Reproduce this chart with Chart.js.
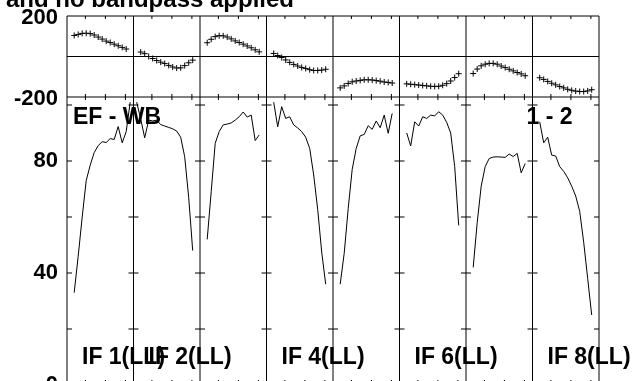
<!DOCTYPE html>
<html>
<head>
<meta charset="utf-8">
<script src="https://cdn.jsdelivr.net/npm/chart.js@4.4.1/dist/chart.umd.min.js"></script>
<style>
  html, body { margin: 0; padding: 0; background: #fff; overflow: hidden; }
  canvas { display: block; }
</style>
</head>
<body>
<canvas id="possm" width="636" height="400"></canvas>
<script>
// channels of each IF window
var channels = [1, 2, 3, 4, 5, 6, 7, 8, 9, 10, 11, 12, 13, 14, 15, 16];
var ifLabels = ['IF 1(LL)', 'IF 2(LL)', 'IF 3(LL)', 'IF 4(LL)', 'IF 5(LL)', 'IF 6(LL)', 'IF 7(LL)', 'IF 8(LL)'];
var labelledIFs = [1, 2, 4, 6, 8];
var phaseTicks = [-200, 200];
var ampTicks = [0, 40, 80];
var ampTickMarks = [20, 40, 60, 80, 100];
var channelTicks = [4.6, 9.6, 14.6];
var baselineName = 'EF - WB';
var stokesName = '1 - 2';
var plotTitle = 'Calibration table 1 applied and no bandpass applied';

// phase (degrees), one value per channel
var phaseIF1 = [null, 104, 109, 114, 115, 113, 106, 96, 86, 76, 69, 61, 53, 45, 37, null];
var phaseIF2 = [null, 22, 14, 0, -10, -20, -28, -35, -44, -52, -57, -56, -45, -31, -18, null];
var phaseIF3 = [null, 68, 85, 98, 103, 102, 96, 87, 77, 69, 61, 52, 43, 33, 23, null];
var phaseIF4 = [null, 15, 5, -5, -17, -29, -39, -47, -54, -59, -65, -69, -69, -67, -63, null];
var phaseIF5 = [null, -155, -145, -133, -125, -121, -118, -115, -115, -116, -119, -122, -126, -128, -131, null];
var phaseIF6 = [null, -135, -137, -139, -141, -143, -145, -147, -148, -147, -142, -134, -121, -104, -85, null];
var phaseIF7 = [null, -84, -62, -46, -38, -34, -34, -38, -47, -55, -63, -71, -79, -86, -95, null];
var phaseIF8 = [null, -105, -113, -123, -132, -140, -148, -155, -162, -167, -171, -173, -173, -170, -164, null];

// amplitude, one value per channel
var ampIF1 = [null, 33, 46, 60, 73, 78.5, 83, 85.5, 86.9, 86.6, 88, 87.7, 92.3, 86.5, 90.5, 101];
var ampIF2 = [101, 95, 88.3, 94.6, 94.3, 94.6, 93, 92.5, 92, 91.5, 90.7, 88.5, 81.5, 67, 48, null];
var ampIF3 = [null, 52, 69, 86.3, 90.5, 92.9, 93.2, 93.6, 94.6, 95.8, 97.5, 95.7, 96.4, 87.3, 89.3, null];
var ampIF4 = [null, 101, 92.2, 99.4, 95.2, 95.8, 92.9, 91.8, 90.5, 88.5, 84.5, 75, 62.7, 47.5, 36, null];
var ampIF5 = [null, 36, 47, 63, 77, 84.5, 89, 89.5, 92.6, 91.3, 94.3, 91.9, 96.4, 89.9, 97, null];
var ampIF6 = [null, 90, 85.4, 94, 92.5, 95.8, 95.2, 96.4, 96.1, 97.6, 96.4, 93.8, 90, 78, 57, null];
var ampIF7 = [null, 42, 58, 71, 78, 80.9, 81.4, 81.5, 81.4, 81.3, 82.5, 81.6, 82.7, 75.8, 79.1, null];
var ampIF8 = [null, 94, 86.5, 88.5, 82.1, 81.8, 78, 76.3, 74, 71, 67.5, 62, 51, 38, 25, null];

var phases = [phaseIF1, phaseIF2, phaseIF3, phaseIF4, phaseIF5, phaseIF6, phaseIF7, phaseIF8];
var amps = [ampIF1, ampIF2, ampIF3, ampIF4, ampIF5, ampIF6, ampIF7, ampIF8];

var W = 16.625; // width of one IF window in channels
var FONT = 'Liberation Sans, Arial, Helvetica, sans-serif';

function points(p, arr) {
  var pts = [];
  for (var i = 0; i < channels.length; i++) {
    if (arr[i] !== null) pts.push({x: p * W + channels[i] - 0.2, y: arr[i]});
  }
  return pts;
}

var datasets = [];
for (var p = 0; p < 8; p++) {
  datasets.push({
    label: ifLabels[p] + ' phase',
    data: points(p, phases[p]),
    yAxisID: 'yP',
    showLine: false,
    pointStyle: 'cross',
    pointRadius: 3,
    borderColor: '#000',
    borderWidth: 1
  });
  datasets.push({
    label: ifLabels[p] + ' amp',
    data: points(p, amps[p]),
    yAxisID: 'yA',
    showLine: true,
    pointRadius: 0,
    borderColor: '#000',
    borderWidth: 1,
    tension: 0
  });
}

var frame = {
  id: 'frame',
  afterDatasetsDraw: function(chart) {
    var ctx = chart.ctx;
    var x = chart.scales.x, yP = chart.scales.yP, yA = chart.scales.yA;
    var left = chart.chartArea.left, right = chart.chartArea.right;
    var top = yP.top, mid = yP.bottom, bot = yA.bottom;
    ctx.save();
    ctx.strokeStyle = '#000';
    ctx.lineWidth = 1;
    ctx.beginPath();
    [top, mid, yP.getPixelForValue(0), bot].forEach(function(y) {
      ctx.moveTo(left, y); ctx.lineTo(right, y);
    });
    for (var p = 0; p <= 8; p++) {
      var px = x.getPixelForValue(p * W);
      ctx.moveTo(px, top); ctx.lineTo(px, bot);
      ampTickMarks.forEach(function(v) {
        var py = yA.getPixelForValue(v);
        ctx.moveTo(p > 0 ? px - 5 : px, py);
        ctx.lineTo(p < 8 ? px + 5 : px, py);
      });
      if (p < 8) {
        channelTicks.forEach(function(o) {
          var tx = x.getPixelForValue(p * W + o);
          ctx.moveTo(tx, top); ctx.lineTo(tx, top + 3);
          ctx.moveTo(tx, mid - 3); ctx.lineTo(tx, mid + 3);
          ctx.moveTo(tx, bot - 5); ctx.lineTo(tx, bot);
        });
      }
    }
    ctx.stroke();

    ctx.fillStyle = '#000';
    ctx.font = 'bold 23px ' + FONT;
    ctx.textBaseline = 'alphabetic';
    ctx.textAlign = 'left';
    ctx.fillText(baselineName, left + 6, mid + 27);
    ctx.fillText(stokesName, x.getPixelForValue(7 * W) - 6, mid + 27);
    labelledIFs.forEach(function(n) {
      ctx.fillText(ifLabels[n - 1], x.getPixelForValue((n - 1) * W) + 15, bot - 21);
    });
    ctx.font = 'bold 24px ' + FONT;
    ctx.textAlign = 'right';
    ctx.fillText(plotTitle, 294, 7);
    ctx.restore();
  }
};

// fixed axis width, and no extra room for the tick labels
function fixWidth(scale) {
  scale.width = 67;
  scale.paddingTop = 0;
  scale.paddingBottom = 0;
  scale.paddingLeft = 0;
  scale.paddingRight = 0;
}

new Chart(document.getElementById('possm'), {
  type: 'scatter',
  data: {datasets: datasets},
  options: {
    responsive: false,
    animation: false,
    layout: {padding: {top: 16, right: 37, bottom: 15, left: 0}},
    plugins: {legend: {display: false}, tooltip: {enabled: false}},
    scales: {
      x: {type: 'linear', min: 0, max: 8 * W, display: false},
      yA: {
        type: 'linear', position: 'left', stack: 'v', stackWeight: 288,
        min: 0, max: 102.86,
        afterBuildTicks: function(s) { s.ticks = ampTicks.map(function(v) { return {value: v}; }); },
        afterFit: fixWidth,
        grid: {display: false, drawTicks: false},
        border: {display: false},
        ticks: {color: '#000', padding: 9, autoSkip: false, font: {family: FONT, size: 22, weight: 'bold'}}
      },
      yP: {
        type: 'linear', position: 'left', stack: 'v', stackWeight: 81,
        min: -200, max: 200,
        afterBuildTicks: function(s) { s.ticks = phaseTicks.map(function(v) { return {value: v}; }); },
        afterFit: fixWidth,
        grid: {display: false, drawTicks: false},
        border: {display: false},
        ticks: {color: '#000', padding: 9, labelOffset: 2, autoSkip: false, font: {family: FONT, size: 22, weight: 'bold'}}
      }
    }
  },
  plugins: [frame]
});
</script>
</body>
</html>
